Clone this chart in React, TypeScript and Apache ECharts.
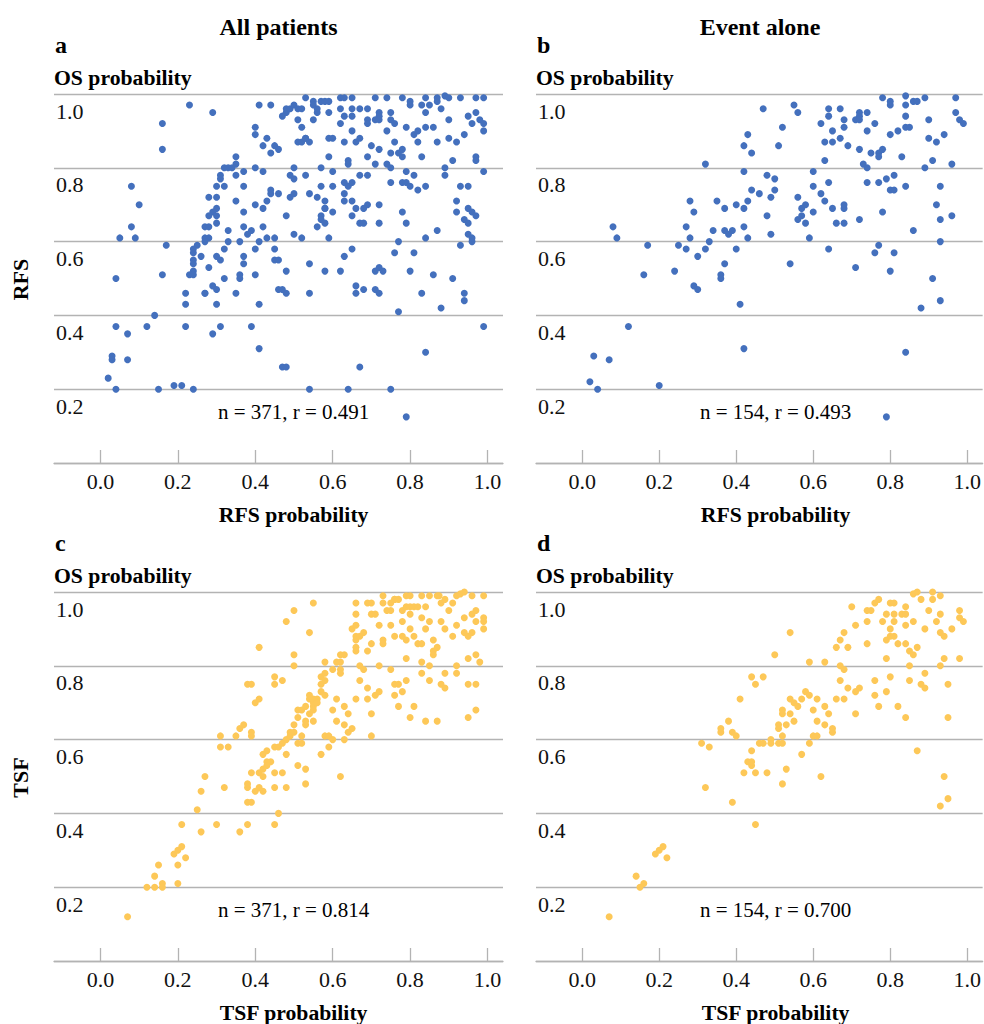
import React, { useEffect, useRef } from "react";
import * as echarts from "echarts";

const FONT = "Liberation Serif, Times New Roman, serif";
const GRID_COLOR = "#b3b3b3";
const BLUE = "#4470bd";
const GOLD = "#fdc858";

const X_TICKS = [0, 0.2, 0.4, 0.6, 0.8, 1.0];

const COLUMN_TITLES = ["All patients", "Event alone"];
const PANEL_LETTERS = ["a", "b", "c", "d"];
const ROW_LABELS = ["RFS", "TSF"];
const X_NAMES = ["RFS probability", "RFS probability", "TSF probability", "TSF probability"];
const Y_NAME = "OS probability";
const STATS = ["n = 371, r = 0.491", "n = 154, r = 0.493", "n = 371, r = 0.814", "n = 154, r = 0.700"];

// Panel a: RFS vs OS, all patients
const rfsAll: number[][] = [
  [0.23,0.97],[0.29,0.95],[0.41,0.97],[0.44,0.97],[0.47,0.94],[0.48,0.95],[0.48,0.96],[0.49,0.96],
  [0.50,0.97],[0.51,0.96],[0.52,0.96],[0.51,0.93],[0.53,0.99],[0.55,0.98],[0.55,0.97],[0.56,0.96],
  [0.56,0.95],[0.55,0.93],[0.57,0.98],[0.58,0.98],[0.59,0.98],[0.59,0.95],[0.62,0.99],[0.63,0.99],
  [0.65,0.99],[0.62,0.96],[0.63,0.94],[0.65,0.94],[0.65,0.96],[0.67,0.96],[0.69,0.93],[0.69,0.96],
  [0.69,0.92],[0.71,0.99],[0.74,0.99],[0.72,0.95],[0.71,0.93],[0.72,0.94],[0.72,0.93],[0.75,0.95],
  [0.75,0.93],[0.76,0.92],[0.74,0.90],[0.78,0.99],[0.80,0.98],[0.80,0.97],[0.79,0.91],[0.83,0.97],
  [0.84,0.99],[0.85,0.97],[0.87,0.98],[0.87,0.99],[0.89,0.995],[0.90,0.99],[0.93,0.99],[0.97,0.99],
  [0.99,0.99],[0.84,0.95],[0.88,0.96],[0.90,0.93],[0.95,0.94],[0.97,0.95],[0.98,0.93],[0.99,0.92],
  [0.96,0.92],[0.99,0.90],[0.81,0.89],[0.82,0.90],[0.84,0.91],[0.86,0.91],[0.82,0.87],[0.87,0.87],
  [0.90,0.88],[0.92,0.87],[0.94,0.89],[0.91,0.82],[0.62,0.92],[0.65,0.90],[0.66,0.87],[0.67,0.88],
  [0.63,0.87],[0.60,0.88],[0.59,0.88],[0.40,0.91],[0.40,0.89],[0.43,0.88],[0.42,0.86],[0.44,0.84],
  [0.45,0.86],[0.46,0.85],[0.52,0.91],[0.51,0.87],[0.52,0.87],[0.53,0.88],[0.53,0.88],[0.54,0.87],
  [0.59,0.83],[0.64,0.82],[0.64,0.81],[0.70,0.86],[0.69,0.83],[0.71,0.81],[0.72,0.85],[0.74,0.81],
  [0.75,0.80],[0.75,0.84],[0.76,0.87],[0.77,0.84],[0.78,0.83],[0.78,0.85],[0.83,0.83],[0.89,0.80],
  [0.89,0.78],[0.97,0.83],[0.97,0.82],[0.99,0.79],
  [0.32,0.80],[0.33,0.80],[0.34,0.80],[0.31,0.78],[0.31,0.77],[0.30,0.75],[0.32,0.75],[0.35,0.83],
  [0.35,0.81],[0.35,0.78],[0.37,0.79],[0.37,0.75],[0.40,0.80],[0.42,0.79],[0.44,0.74],[0.44,0.73],
  [0.43,0.71],[0.46,0.73],[0.49,0.78],[0.50,0.77],[0.50,0.80],[0.49,0.72],[0.50,0.73],[0.53,0.78],
  [0.54,0.73],[0.57,0.80],[0.57,0.75],[0.60,0.75],[0.60,0.79],[0.63,0.76],[0.64,0.75],[0.65,0.76],
  [0.63,0.73],[0.63,0.71],[0.67,0.78],[0.69,0.78],[0.75,0.76],[0.78,0.76],[0.79,0.76],[0.79,0.79],
  [0.81,0.78],[0.80,0.75],[0.82,0.74],[0.84,0.75],[0.93,0.75],[0.95,0.75],
  [0.08,0.75],[0.10,0.70],[0.08,0.64],[0.09,0.61],[0.05,0.61],[0.28,0.72],[0.30,0.72],[0.30,0.69],
  [0.29,0.68],[0.28,0.67],[0.30,0.67],[0.30,0.65],[0.27,0.64],[0.28,0.64],[0.27,0.61],[0.28,0.61],
  [0.27,0.60],[0.35,0.71],[0.37,0.68],[0.37,0.64],[0.39,0.63],[0.38,0.62],[0.33,0.63],[0.33,0.60],
  [0.36,0.60],[0.32,0.58],[0.40,0.70],[0.42,0.69],[0.42,0.64],[0.43,0.61],[0.45,0.61],[0.41,0.60],
  [0.40,0.58],[0.45,0.58],[0.48,0.67],[0.50,0.62],[0.52,0.61],[0.56,0.72],[0.58,0.71],[0.58,0.69],
  [0.58,0.69],[0.60,0.68],[0.57,0.67],[0.57,0.66],[0.58,0.65],[0.56,0.64],[0.59,0.61],[0.65,0.71],
  [0.66,0.69],[0.65,0.67],[0.67,0.65],[0.68,0.65],[0.69,0.70],[0.68,0.69],[0.72,0.70],[0.72,0.65],
  [0.78,0.68],[0.79,0.65],[0.77,0.60],[0.76,0.57],[0.81,0.57],[0.84,0.61],[0.87,0.63],[0.92,0.71],
  [0.92,0.68],[0.95,0.69],[0.96,0.68],[0.97,0.67],[0.94,0.66],[0.95,0.65],[0.95,0.62],[0.96,0.61],
  [0.96,0.60],[0.93,0.59],
  [0.17,0.59],[0.16,0.51],[0.04,0.50],[0.25,0.59],[0.24,0.58],[0.24,0.57],[0.24,0.55],[0.24,0.54],
  [0.24,0.52],[0.23,0.51],[0.24,0.51],[0.26,0.56],[0.22,0.46],[0.22,0.43],[0.28,0.53],[0.30,0.56],
  [0.31,0.55],[0.29,0.48],[0.30,0.47],[0.27,0.46],[0.27,0.46],[0.30,0.43],[0.32,0.50],[0.36,0.51],
  [0.36,0.50],[0.35,0.46],[0.37,0.56],[0.37,0.54],[0.40,0.51],[0.41,0.43],[0.45,0.55],[0.46,0.55],
  [0.48,0.52],[0.46,0.47],[0.47,0.47],[0.48,0.46],[0.54,0.54],[0.54,0.46],[0.58,0.52],[0.62,0.52],
  [0.63,0.56],[0.65,0.58],[0.66,0.48],[0.66,0.46],[0.68,0.47],[0.71,0.52],[0.72,0.53],[0.73,0.52],
  [0.71,0.47],[0.72,0.46],[0.77,0.41],[0.80,0.52],[0.83,0.46],[0.86,0.51],[0.88,0.42],[0.91,0.50],
  [0.94,0.46],[0.94,0.44],
  [0.02,0.23],[0.03,0.29],[0.03,0.28],[0.04,0.37],[0.04,0.20],[0.07,0.28],[0.07,0.35],[0.12,0.37],
  [0.14,0.40],[0.15,0.20],[0.19,0.21],[0.21,0.21],[0.24,0.20],[0.22,0.37],[0.29,0.35],[0.31,0.37],
  [0.39,0.37],[0.41,0.31],[0.47,0.26],[0.48,0.26],[0.54,0.20],[0.64,0.20],[0.67,0.26],[0.75,0.20],
  [0.79,0.125],[0.84,0.30],[0.99,0.37],[0.16,0.92],[0.16,0.85],
];

// Panel b: RFS vs OS, event alone
const rfsEvent: number[][] = [
  [0.47,0.96],[0.55,0.97],[0.56,0.95],[0.52,0.91],[0.51,0.86],[0.62,0.92],[0.64,0.96],[0.64,0.94],
  [0.67,0.96],[0.65,0.90],[0.65,0.87],[0.67,0.88],[0.63,0.87],[0.63,0.82],[0.68,0.93],[0.68,0.91],
  [0.69,0.86],[0.71,0.93],[0.72,0.94],[0.72,0.95],[0.72,0.93],[0.74,0.95],[0.74,0.90],[0.76,0.92],
  [0.72,0.85],[0.75,0.84],[0.77,0.84],[0.77,0.83],[0.78,0.85],[0.73,0.81],[0.74,0.80],[0.78,0.99],
  [0.80,0.98],[0.80,0.97],[0.84,0.995],[0.84,0.97],[0.86,0.98],[0.87,0.98],[0.89,0.99],[0.97,0.99],
  [0.97,0.95],[0.98,0.93],[0.99,0.92],[0.84,0.94],[0.90,0.93],[0.84,0.91],[0.85,0.91],[0.82,0.90],
  [0.80,0.89],[0.90,0.88],[0.92,0.87],[0.94,0.89],[0.91,0.82],[0.83,0.83],[0.89,0.80],[0.96,0.81],
  [0.42,0.86],[0.43,0.89],[0.44,0.84],[0.42,0.79],[0.32,0.81],[0.48,0.78],[0.50,0.77],[0.50,0.74],
  [0.49,0.72],[0.46,0.73],[0.44,0.74],[0.43,0.71],[0.48,0.67],[0.49,0.62],[0.60,0.79],[0.60,0.75],
  [0.62,0.73],[0.63,0.71],[0.64,0.76],[0.56,0.72],[0.58,0.70],[0.57,0.69],[0.57,0.67],[0.56,0.66],
  [0.58,0.65],[0.60,0.68],[0.59,0.61],[0.65,0.69],[0.68,0.69],[0.68,0.70],[0.66,0.65],[0.68,0.65],
  [0.72,0.66],[0.64,0.58],[0.74,0.76],[0.77,0.76],[0.79,0.77],[0.81,0.78],[0.80,0.74],[0.81,0.74],
  [0.84,0.75],[0.78,0.68],[0.93,0.75],[0.92,0.70],[0.93,0.66],[0.96,0.67],
  [0.08,0.64],[0.09,0.61],[0.17,0.59],[0.16,0.51],[0.24,0.52],[0.25,0.59],[0.27,0.64],[0.28,0.71],
  [0.29,0.68],[0.28,0.61],[0.27,0.58],[0.30,0.56],[0.29,0.48],[0.30,0.47],[0.35,0.71],[0.34,0.63],
  [0.33,0.60],[0.32,0.58],[0.37,0.69],[0.37,0.63],[0.39,0.63],[0.38,0.62],[0.37,0.54],[0.36,0.51],
  [0.36,0.50],[0.40,0.70],[0.42,0.69],[0.42,0.64],[0.43,0.61],[0.40,0.58],[0.41,0.43],[0.42,0.31],
  [0.54,0.54],[0.71,0.53],[0.77,0.59],[0.76,0.57],[0.81,0.57],[0.80,0.52],[0.86,0.63],[0.93,0.60],
  [0.91,0.50],[0.88,0.42],[0.93,0.44],
  [0.02,0.22],[0.03,0.29],[0.04,0.20],[0.07,0.28],[0.12,0.37],[0.20,0.21],[0.84,0.30],[0.79,0.125],
];

// Panel c: TSF vs OS, all patients
const tsfAll: number[][] = [
  [0.07,0.12],[0.12,0.20],[0.14,0.23],[0.14,0.20],[0.16,0.21],[0.16,0.20],[0.15,0.26],[0.20,0.21],
  [0.20,0.26],[0.19,0.29],[0.20,0.30],[0.21,0.31],[0.22,0.28],[0.21,0.37],[0.25,0.41],[0.26,0.46],
  [0.27,0.50],[0.26,0.35],[0.30,0.37],[0.32,0.47],[0.31,0.58],[0.31,0.61],[0.33,0.58],[0.36,0.35],
  [0.35,0.61],[0.36,0.63],[0.37,0.64],[0.38,0.37],[0.38,0.47],[0.38,0.48],[0.39,0.51],[0.38,0.43],
  [0.39,0.43],[0.39,0.62],[0.39,0.61],[0.40,0.70],[0.41,0.71],[0.38,0.75],[0.39,0.75],[0.41,0.85],
  [0.40,0.46],[0.41,0.47],[0.42,0.46],[0.41,0.51],[0.42,0.50],[0.42,0.52],[0.42,0.56],[0.43,0.54],
  [0.44,0.54],[0.43,0.53],[0.43,0.57],[0.45,0.58],[0.45,0.51],[0.45,0.47],[0.46,0.40],[0.45,0.37],
  [0.47,0.51],[0.48,0.47],[0.46,0.58],[0.47,0.59],[0.48,0.60],[0.48,0.56],[0.49,0.62],[0.49,0.61],
  [0.50,0.64],[0.50,0.62],[0.51,0.66],[0.51,0.68],[0.52,0.68],[0.51,0.59],[0.52,0.59],[0.52,0.61],
  [0.51,0.53],[0.53,0.52],[0.53,0.48],[0.53,0.64],[0.53,0.65],[0.54,0.67],[0.55,0.68],[0.55,0.69],
  [0.55,0.70],[0.53,0.69],[0.54,0.71],[0.54,0.72],[0.55,0.71],[0.56,0.71],[0.56,0.70],[0.57,0.73],
  [0.57,0.75],[0.57,0.77],[0.58,0.78],[0.58,0.76],[0.55,0.65],[0.57,0.56],[0.58,0.61],[0.59,0.58],
  [0.59,0.61],[0.60,0.60],[0.58,0.72],[0.61,0.71],[0.60,0.68],[0.61,0.65],[0.63,0.64],[0.63,0.69],
  [0.64,0.67],[0.65,0.63],[0.64,0.62],[0.63,0.60],[0.62,0.50],
  [0.45,0.77],[0.45,0.75],[0.47,0.76],[0.50,0.80],[0.50,0.83],[0.48,0.92],[0.50,0.95],[0.54,0.89],
  [0.55,0.97],[0.58,0.81],[0.60,0.79],[0.61,0.81],[0.62,0.83],[0.63,0.83],[0.62,0.81],[0.62,0.79],
  [0.62,0.78],[0.66,0.85],[0.66,0.84],[0.65,0.90],[0.66,0.91],[0.66,0.94],[0.66,0.97],[0.69,0.97],
  [0.68,0.89],[0.66,0.88],[0.66,0.87],[0.67,0.88],[0.67,0.80],[0.68,0.79],[0.69,0.84],[0.70,0.97],
  [0.70,0.94],[0.71,0.94],[0.72,0.91],[0.70,0.86],[0.67,0.76],[0.69,0.74],[0.69,0.71],[0.71,0.72],
  [0.72,0.73],[0.66,0.71],[0.70,0.67],[0.70,0.61],
  [0.73,0.99],[0.73,0.97],[0.74,0.95],[0.75,0.97],[0.75,0.95],[0.76,0.98],[0.76,0.98],[0.77,0.98],
  [0.78,0.95],[0.79,0.99],[0.80,0.99],[0.78,0.92],[0.79,0.96],[0.80,0.94],[0.80,0.96],[0.81,0.96],
  [0.82,0.96],[0.83,0.99],[0.83,0.93],[0.84,0.96],[0.85,0.99],[0.87,0.99],[0.875,0.99],[0.88,0.97],
  [0.89,0.98],[0.91,0.97],[0.92,0.99],[0.93,0.995],[0.94,1.0],[0.96,0.99],[0.99,0.99],[0.75,0.91],
  [0.73,0.87],[0.73,0.86],[0.76,0.88],[0.78,0.88],[0.79,0.87],[0.80,0.90],[0.81,0.88],[0.82,0.86],
  [0.83,0.86],[0.84,0.90],[0.85,0.92],[0.86,0.87],[0.87,0.85],[0.86,0.84],[0.86,0.83],[0.88,0.92],
  [0.89,0.90],[0.90,0.95],[0.91,0.88],[0.92,0.91],[0.94,0.93],[0.94,0.89],[0.95,0.88],[0.96,0.94],
  [0.97,0.95],[0.97,0.92],[0.99,0.93],[0.99,0.92],[0.99,0.90],[0.96,0.89],
  [0.72,0.80],[0.75,0.79],[0.79,0.82],[0.83,0.81],[0.85,0.80],[0.83,0.78],[0.79,0.76],[0.78,0.73],
  [0.76,0.75],[0.77,0.75],[0.76,0.72],[0.77,0.69],[0.80,0.66],[0.81,0.69],[0.84,0.65],[0.87,0.65],
  [0.85,0.76],[0.88,0.75],[0.89,0.74],[0.89,0.78],[0.92,0.80],[0.92,0.78],[0.95,0.82],[0.97,0.83],
  [0.98,0.81],[0.95,0.75],[0.97,0.75],[0.95,0.66],[0.97,0.68],
];

// Panel d: TSF vs OS, event alone
const tsfEvent: number[][] = [
  [0.07,0.12],[0.14,0.23],[0.15,0.20],[0.16,0.21],[0.19,0.29],[0.20,0.30],[0.21,0.31],[0.22,0.28],
  [0.31,0.59],[0.33,0.58],[0.32,0.47],[0.36,0.62],[0.36,0.63],[0.38,0.65],[0.39,0.62],[0.40,0.61],
  [0.39,0.43],[0.41,0.71],[0.44,0.77],[0.45,0.75],[0.47,0.77],[0.45,0.37],[0.42,0.51],[0.43,0.54],
  [0.44,0.53],[0.44,0.54],[0.44,0.57],[0.45,0.51],[0.46,0.59],[0.47,0.59],[0.48,0.51],[0.49,0.59],
  [0.49,0.60],[0.50,0.83],[0.51,0.64],[0.51,0.63],[0.51,0.59],[0.52,0.61],[0.52,0.68],[0.52,0.59],
  [0.52,0.48],[0.52,0.67],[0.53,0.52],[0.53,0.64],[0.54,0.89],[0.54,0.71],[0.54,0.67],[0.55,0.65],
  [0.55,0.70],[0.56,0.69],[0.57,0.71],[0.58,0.73],[0.59,0.72],[0.57,0.56],[0.59,0.81],[0.60,0.68],
  [0.60,0.61],[0.61,0.61],[0.59,0.59],[0.61,0.71],[0.61,0.65],[0.62,0.50],[0.63,0.69],[0.63,0.64],
  [0.63,0.81],[0.64,0.67],[0.65,0.63],[0.65,0.62],[0.66,0.85],[0.67,0.76],[0.66,0.71],[0.67,0.87],
  [0.67,0.80],[0.68,0.79],[0.68,0.89],[0.69,0.85],[0.68,0.71],[0.69,0.74],[0.70,0.96],[0.71,0.91],
  [0.71,0.67],[0.71,0.73],[0.72,0.74],
  [0.74,0.86],[0.74,0.95],[0.74,0.92],[0.75,0.95],[0.76,0.97],[0.76,0.76],[0.76,0.72],[0.77,0.69],
  [0.77,0.98],[0.78,0.92],[0.79,0.73],[0.79,0.82],[0.79,0.87],[0.79,0.94],[0.80,0.97],[0.80,0.77],
  [0.80,0.90],[0.81,0.97],[0.80,0.88],[0.81,0.88],[0.81,0.94],[0.81,0.92],[0.82,0.69],[0.82,0.86],
  [0.83,0.94],[0.84,0.94],[0.84,0.86],[0.84,0.66],[0.84,0.96],[0.84,0.91],[0.85,0.80],[0.85,0.76],
  [0.85,0.84],[0.86,0.92],[0.86,0.83],[0.87,0.85],[0.86,0.995],[0.87,1.0],[0.88,0.98],[0.87,0.57],
  [0.88,0.75],[0.89,0.74],[0.89,0.78],[0.89,0.90],[0.90,0.95],[0.91,1.0],[0.91,0.98],[0.92,0.92],
  [0.93,0.80],[0.93,0.99],[0.93,0.89],[0.93,0.94],[0.94,0.88],[0.94,0.82],[0.94,0.50],[0.93,0.42],
  [0.95,0.75],[0.95,0.66],[0.95,0.44],[0.96,0.90],[0.98,0.95],[0.98,0.82],[0.98,0.93],[0.99,0.92],
];

const PANEL_DATA = [rfsAll, rfsEvent, tsfAll, tsfEvent];
const PANEL_COLORS = [BLUE, BLUE, GOLD, GOLD];

// layout (pixels)
const GRID_LEFTS = [54, 536, 54, 536];
const GRID_TOPS = [94, 94, 592, 592];
const GRID_W = [449, 448, 449, 448];
const GRID_H = 369;

export default function App() {
  const ref = useRef<HTMLDivElement>(null);

  useEffect(() => {
    document.body.style.margin = "0";
    if (!ref.current) return;
    const chart = echarts.init(ref.current, undefined, { renderer: "svg" });

    const grids = GRID_LEFTS.map((l, i) => ({
      left: l,
      top: GRID_TOPS[i],
      width: GRID_W[i],
      height: GRID_H,
    }));

    const xAxes = PANEL_DATA.map((_, i) => ({
      gridIndex: i,
      type: "value",
      min: -0.12,
      max: 1.04,
      axisLine: { show: true, onZero: false, lineStyle: { color: GRID_COLOR, width: 1.3 } },
      axisTick: {
        show: true,
        inside: true,
        length: 13,
        customValues: X_TICKS,
        lineStyle: { color: GRID_COLOR, width: 1.3 },
      },
      axisLabel: {
        customValues: X_TICKS,
        formatter: (v: number) => v.toFixed(1),
        margin: 7,
        fontSize: 22,
        color: "#111",
        fontFamily: FONT,
      },
      splitLine: { show: false },
    }));

    const yAxes = PANEL_DATA.map((_, i) => ({
      gridIndex: i,
      type: "value",
      min: 0,
      max: 1,
      interval: 0.2,
      axisLine: { show: false },
      axisTick: { show: false },
      axisLabel: {
        inside: true,
        margin: 2,
        showMinLabel: false,
        formatter: (v: number) => v.toFixed(1),
        verticalAlign: "top",
        lineHeight: 22,
        padding: [6, 0, 0, 0],
        fontSize: 22,
        color: "#111",
        fontFamily: FONT,
      },
      splitLine: { show: true, lineStyle: { color: GRID_COLOR, width: 1.3 } },
    }));

    const series = PANEL_DATA.map((d, i) => ({
      type: "scatter",
      xAxisIndex: i,
      yAxisIndex: i,
      symbolSize: 7,
      itemStyle: { color: PANEL_COLORS[i], opacity: 1 },
      data: d,
    }));

    const txt = (text: string, x: number, y: number, size: number, bold: boolean, align = "center", rotation = 0) => ({
      type: "text",
      x,
      y,
      rotation,
      silent: true,
      style: {
        text,
        fill: "#000",
        fontFamily: FONT,
        fontSize: size,
        fontWeight: bold ? "bold" : "normal",
        align,
        verticalAlign: "middle",
      },
    });

    const graphics: any[] = [];
    COLUMN_TITLES.forEach((t, c) => {
      graphics.push(txt(t, GRID_LEFTS[c] + GRID_W[c] / 2, 27, 24, true));
    });
    PANEL_LETTERS.forEach((l, i) => {
      const top = GRID_TOPS[i];
      graphics.push(txt(l, GRID_LEFTS[i] + 1, top - 49, 24, true, "left"));
      graphics.push(txt(Y_NAME, GRID_LEFTS[i], top - 16, 21.7, true, "left"));
      const x0 = GRID_LEFTS[i] + 0.12 * 386.5;
      graphics.push(txt(X_NAMES[i], x0 + 0.5 * 386.5, top + GRID_H + 52, 21.7, true));
      graphics.push(txt(STATS[i], x0 + 0.5 * 386.5, top + 318, 21, false));
    });
    ROW_LABELS.forEach((r, k) => {
      graphics.push(txt(r, 20, GRID_TOPS[k * 2] + GRID_H / 2 + 1, 22, true, "center", Math.PI / 2));
    });

    chart.setOption({
      animation: false,
      backgroundColor: "#fff",
      grid: grids,
      xAxis: xAxes,
      yAxis: yAxes,
      series,
      graphic: graphics,
    } as any);

    return () => chart.dispose();
  }, []);

  return <div ref={ref} style={{ width: 984, height: 1024 }} />;
}
